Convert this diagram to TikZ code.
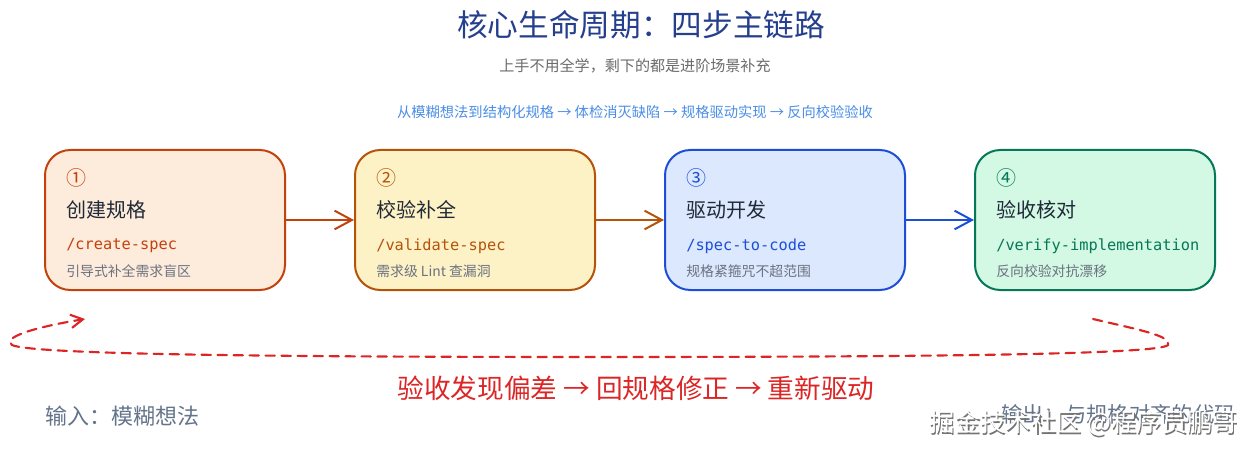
\documentclass[tikz,border=0pt]{standalone}
\usepackage{fontspec}
\setmainfont{Noto Sans CJK SC}
\newfontfamily\codefont{DejaVu Sans Mono}
\usetikzlibrary{arrows.meta}
\definecolor{titleblue}{HTML}{253F8E}
\definecolor{subgray}{HTML}{6B6B6B}
\definecolor{lineblue}{HTML}{4A8EE6}
\definecolor{oA}{HTML}{C2410C}\definecolor{oAf}{HTML}{FDEBDB}
\definecolor{yA}{HTML}{B45309}\definecolor{yAf}{HTML}{FDF1C6}
\definecolor{bA}{HTML}{1D4ED8}\definecolor{bAf}{HTML}{DBE8FD}
\definecolor{gA}{HTML}{047857}\definecolor{gAf}{HTML}{D3F8E4}
\definecolor{darktext}{HTML}{1F2937}
\definecolor{desctext}{HTML}{6B7280}
\definecolor{loopred}{HTML}{DC2626}
\definecolor{iogray}{HTML}{64748B}
\newcommand{\fs}[1]{\fontsize{#1}{1.2\dimexpr#1\relax}\selectfont}
\begin{document}
\begin{tikzpicture}[x=0.75pt,y=-0.75pt,
  stepbox/.style={draw, line width=1.5pt, rounded corners=19pt, minimum width=180pt, minimum height=105pt, inner sep=0pt},
  numtxt/.style={anchor=west, inner sep=0pt, font=\fs{15pt}},
  headtxt/.style={anchor=west, inner sep=0pt, text=darktext, font=\fs{15pt}},
  codetxt/.style={anchor=west, inner sep=0pt, font=\codefont\fs{11.5pt}},
  desctxt/.style={anchor=west, inner sep=0pt, text=desctext, font=\fs{10.4pt}},
  conn/.style={line width=1.5pt, -{Straight Barb[length=13pt,width=14pt]}},
  loopline/.style={draw=loopred, line width=1.6pt, dash pattern=on 7pt off 5pt, line cap=round, -{Straight Barb[length=9pt,width=10pt]}}
]
\useasboundingbox (0,0) rectangle (1248,452);
\fill[white] (0,0) rectangle (1248,452);

\node[text=titleblue, font=\fs{23pt}] (title) at (641,25) {核心生命周期：四步主链路};
\node[text=subgray, font=\fs{11.3pt}] (sub) at (635,66) {上手不用全学，剩下的都是进阶场景补充};
\node[text=lineblue, font=\fs{10.7pt}] (flow) at (635,112) {从模糊想法到结构化规格 → 体检消灭缺陷 → 规格驱动实现 → 反向校验验收};

% boxes
\node[stepbox, draw=oA, fill=oAf] (b1) at (165,220) {};
\node[stepbox, draw=yA, fill=yAf] (b2) at (475,220) {};
\node[stepbox, draw=bA, fill=bAf] (b3) at (785,220) {};
\node[stepbox, draw=gA, fill=gAf] (b4) at (1095,220) {};

% box 1
\node[numtxt, text=oA] (n1) at (66,178) {①};
\node[headtxt] (h1) at (66,210) {创建规格};
\node[codetxt, text=oA] (c1) at (66,246) {/create-spec};
\node[desctxt] (d1) at (66,271) {引导式补全需求盲区};
% box 2
\node[numtxt, text=yA] (n2) at (376,178) {②};
\node[headtxt] (h2) at (376,210) {校验补全};
\node[codetxt, text=yA] (c2) at (376,246) {/validate-spec};
\node[desctxt] (d2) at (376,271) {需求级 Lint 查漏洞};
% box 3
\node[numtxt, text=bA] (n3) at (686,178) {③};
\node[headtxt] (h3) at (686,210) {驱动开发};
\node[codetxt, text=bA] (c3) at (686,246) {/spec-to-code};
\node[desctxt] (d3) at (686,271) {规格紧箍咒不超范围};
% box 4
\node[numtxt, text=gA] (n4) at (996,178) {④};
\node[headtxt] (h4) at (996,210) {验收核对};
\node[codetxt, text=gA] (c4) at (996,246) {/verify-implementation};
\node[desctxt] (d4) at (996,271) {反向校验对抗漂移};

% connectors
\draw[conn, draw=oA] (b1.east) -- (b2.west);
\draw[conn, draw=yA] (b2.east) -- (b3.west);
\draw[conn, draw=bA] (b3.east) -- (b4.west);

% feedback loop
\coordinate (ls) at (1093,319);
\coordinate (le) at (85,319);
\draw[loopline] (ls) .. controls (1140,330) and (1172,336) .. (1168,345)
  .. controls (1160,354) and (950,357) .. (600,357)
  .. controls (250,357) and (30,354) .. (12,345)
  .. controls (2,338) and (30,328) .. (le);

\node[text=loopred, font=\fs{20pt}] (fb) at (636,388) {验收发现偏差 → 回规格修正 → 重新驱动};

\node[anchor=west, inner sep=0pt, text=iogray, font=\fs{16.5pt}] (in) at (45,416) {输入：模糊想法};
\node[anchor=east, inner sep=0pt, text=iogray, font=\fs{16pt}] (out) at (1236,414) {输出：与规格对齐的代码};

% watermark (overlaps the output text, as in the reference)
\node[anchor=east, inner sep=0pt, text=black!55, font=\fs{19pt}] (wms) at (1239.5,424.5) {掘金技术社区 @程序员鹏哥};
\node[anchor=east, inner sep=0pt, text=white, font=\fs{19pt}] (wm) at (1238,423) {掘金技术社区 @程序员鹏哥};
\end{tikzpicture}
\end{document}
